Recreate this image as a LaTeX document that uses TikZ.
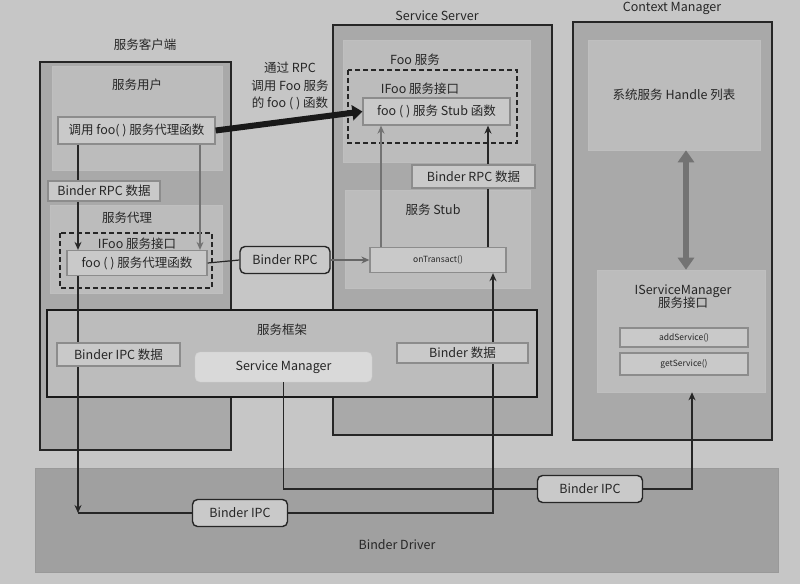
\documentclass[tikz,border=0pt]{standalone}
\usepackage{fontspec}
\setmainfont{Noto Sans CJK SC}
\usetikzlibrary{arrows.meta}
\definecolor{pagebg}{HTML}{C6C6C6}
\definecolor{outerfill}{HTML}{A9A9A9}
\definecolor{innerfill}{HTML}{BCBCBC}
\definecolor{boxfill}{HTML}{C9C9C9}
\definecolor{drivefill}{HTML}{A0A0A0}
\begin{document}
\begin{tikzpicture}[x=1pt,y=-1pt,
		font=\fontsize{12.5}{15}\selectfont,
		>={Stealth[length=8pt,width=7pt]},
		outerbox/.style={draw=black!85,line width=1.2pt,fill=outerfill},
		innerbox/.style={draw=black!25,line width=0.6pt,fill=innerfill},
		ifacebox/.style={draw=black!85,line width=1.5pt,dash pattern=on 5pt off 3pt},
		funcbox/.style={draw=black!45,line width=1.3pt,fill=boxfill,inner sep=2pt,text=black!85},
		ipcbox/.style={draw=black!85,line width=1.4pt,rounded corners=5pt,fill=boxfill,text=black!85,minimum height=27pt},
		framelabel/.style={text=black!85},
		smallfont/.style={font=\fontsize{8.5}{10}\selectfont},
		flow/.style={->,draw=black!85,line width=1.2pt},
		link/.style={draw=black!85,line width=1.2pt}]
		\fill[pagebg] (0,0) rectangle (800,584);
		\useasboundingbox (0,0) rectangle (800,584);

		%binder driver
		\draw[draw=black!40,fill=drivefill] (35,468) rectangle (778,572);
		\node[framelabel] (drvname) at (397,545) {Binder Driver};

		%client side
		\node[framelabel] (cliname) at (145,45) {服务客户端};
		\draw[outerbox] (40,62) rectangle (231,450);
		\draw[innerbox] (52,66) rectangle (222,170);
		\node[framelabel] (username) at (137,85) {服务用户};
		\draw[innerbox] (50,205) rectangle (222,293);
		\node[framelabel] (proxyname) at (127,218) {服务代理};
		\draw[ifacebox] (60,233) rectangle (212,288);
		\node[framelabel] (ifaceA) at (137,244) {IFoo 服务接口};
		\node[funcbox,minimum width=157pt,minimum height=27pt] (call) at (136.5,130.5) {调用 foo( ) 服务代理函数};
		\node[funcbox,minimum width=140pt,minimum height=25pt] (proxyfn) at (137,263) {foo ( ) 服务代理函数};

		%server side
		\node[framelabel] (srvname) at (437,16) {Service Server};
		\draw[outerbox] (333,25) rectangle (552,435);
		\draw[innerbox] (343,40) rectangle (530,162);
		\node[framelabel] (fooname) at (415,60) {Foo 服务};
		\draw[ifacebox] (348,70) rectangle (517,143);
		\node[framelabel] (ifaceB) at (420,89) {IFoo 服务接口};
		\node[funcbox,minimum width=147pt,minimum height=27pt] (stubfn) at (436.5,111.5) {foo ( ) 服务 Stub 函数};
		\draw[innerbox] (345,190) rectangle (530,288);
		\node[framelabel] (stubname) at (433,210) {服务 Stub};
		\node[funcbox,smallfont,minimum width=136pt,minimum height=25pt] (ontransact) at (438,260) {onTransact()};

		%context manager
		\node[framelabel] (cmname) at (672,8) {Context Manager};
		\draw[outerbox] (573,22) rectangle (772,440);
		\node[innerbox,framelabel,minimum width=172pt,minimum height=110pt] (handles) at (674,95) {系统服务 Handle 列表};
		\node[innerbox,minimum width=168pt,minimum height=122pt] (ism) at (681,331) {};
		\node[framelabel,align=center] (ismname) at (683,297) {IServiceManager\\[-2pt]服务接口};
		\node[funcbox,smallfont,minimum width=128pt,minimum height=19pt] (addsvc) at (684,337.5) {addService()};
		\node[funcbox,smallfont,minimum width=128pt,minimum height=22pt] (getsvc) at (684,364) {getService()};

		%service framework
		\draw[draw=black!90,line width=2.2pt,fill=innerfill] (47,310) rectangle (537,397);
		\node[framelabel] (fwname) at (282,330) {服务框架};
		\node[draw=black!20,fill=boxfill!70!white,rounded corners=5pt,text=black!85,minimum width=177pt,minimum height=30pt] (sm) at (283.5,367) {Service Manager};

		%ipc boxes
		\node[ipcbox,minimum width=90pt] (binderrpc) at (285,260) {Binder RPC};
		\node[ipcbox,minimum width=95pt] (ipc1) at (240,513) {Binder IPC};
		\node[ipcbox,minimum width=105pt] (ipc2) at (590,489) {Binder IPC};

		%x positions of the flows
		\coordinate (lx) at (78,0);
		\coordinate (rx) at (200,0);
		\coordinate (sx) at (381,0);
		\coordinate (tx) at (488,0);
		\coordinate (ux) at (493,0);
		\coordinate (hx) at (686,0);
		\coordinate (mx) at (692,0);
		\coordinate (dl) at (78,513);

		%connectors
		\draw[flow] (call.south -| lx) -- (proxyfn.north -| lx);
		\draw[flow,draw=black!55] (call.south -| rx) -- (proxyfn.north -| rx);
		\draw[link] (proxyfn.east) -- (binderrpc.west);
		\draw[flow,draw=black!60] (binderrpc.east) -- (ontransact.west);
		\draw[flow] (proxyfn.south -| lx) -- (dl);
		\draw[link] (dl) -- (ipc1.west);
		\draw[flow] (ipc1.east) -| (ontransact.south -| ux);
		\draw[link] (sm.south) |- (ipc2.west);
		\draw[flow] (ipc2.east) -| (ism.south -| mx);
		\draw[flow,draw=black!55] (ontransact.north -| sx) -- (stubfn.south -| sx);
		\draw[flow] (ontransact.north -| tx) -- (stubfn.south -| tx);
		\draw[draw=black!55,line width=6pt,{Triangle[length=12pt,width=16pt]}-{Triangle[length=12pt,width=16pt]}] (handles.south -| hx) -- (ism.north -| hx);

		%data labels on the flows
		\node[funcbox,minimum width=112pt,minimum height=20pt] (rpcdataA) at (104,191) {Binder RPC 数据};
		\node[funcbox,minimum width=123pt,minimum height=23pt] (rpcdataB) at (473.5,176.5) {Binder RPC 数据};
		\node[funcbox,minimum width=123pt,minimum height=23pt] (ipcdata) at (118.5,354.5) {Binder IPC 数据};
		\node[funcbox,minimum width=131pt,minimum height=20pt] (binderdata) at (462.5,353) {Binder 数据};

		%rpc call
		\node[framelabel,align=center,font=\fontsize{12.5}{17.5}\selectfont] (rpcnote) at (290,86) {通过 RPC\\调用 Foo 服务\\的 foo ( ) 函数};
		\draw[draw=black!90,line width=6pt,-{Triangle[length=10pt,width=15pt]}] (call.east) -- (stubfn.west);
\end{tikzpicture}
\end{document}
